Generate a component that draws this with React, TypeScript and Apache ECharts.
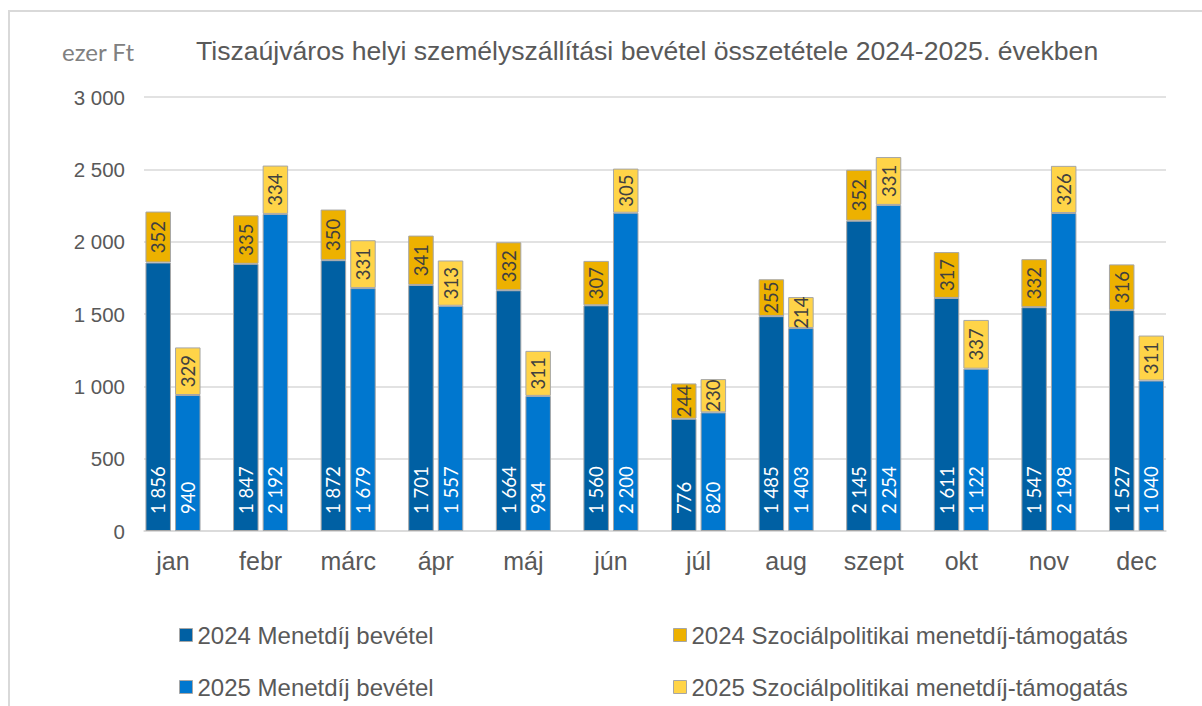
import React, { useEffect, useRef } from 'react';
import * as echarts from 'echarts';

const categories = ['jan', 'febr', 'márc', 'ápr', 'máj', 'jún', 'júl', 'aug', 'szept', 'okt', 'nov', 'dec'];
const fare2024 = [1856, 1847, 1872, 1701, 1664, 1560, 776, 1485, 2145, 1611, 1547, 1527];
const social2024 = [352, 335, 350, 341, 332, 307, 244, 255, 352, 317, 332, 316];
const fare2025 = [940, 2192, 1679, 1557, 934, 2200, 820, 1403, 2254, 1122, 2198, 1040];
const social2025 = [329, 334, 331, 313, 311, 305, 230, 214, 331, 337, 326, 311];
const seriesNames = [
  '2024 Menetdíj bevétel',
  '2024 Szociálpolitikai menetdíj-támogatás',
  '2025 Menetdíj bevétel',
  '2025 Szociálpolitikai menetdíj-támogatás',
];
const titleText = 'Tiszaújváros helyi személyszállítási bevétel összetétele 2024-2025. években';
const unitText = 'ezer Ft';

const fmt = (v: number) => String(v).replace(/\B(?=(\d{3})+(?!\d))/g, ' ');

const ARIAL = '"Liberation Sans", Arial, sans-serif';
const LABEL_FONT = 'Lato, "Liberation Sans", sans-serif';

export default function App() {
  const ref = useRef<HTMLDivElement>(null);
  useEffect(() => {
    if (!ref.current) return;
    const chart = echarts.init(ref.current, undefined, { renderer: 'svg' });
    const border = '#a6a6a6';
    const baseLabel = {
      show: true,
      position: 'insideBottom',
      rotate: 90,
      align: 'left',
      verticalAlign: 'middle',
      distance: 17,
      color: '#ffffff',
      fontFamily: LABEL_FONT,
      fontSize: 18.5,
      formatter: (p: any) => fmt(p.value),
    };
    const topLabel = {
      show: true,
      position: 'inside',
      rotate: 90,
      align: 'center',
      verticalAlign: 'middle',
      color: '#404040',
      fontFamily: LABEL_FONT,
      fontSize: 18.5,
      formatter: (p: any) => fmt(p.value),
    };
    const colors = ['#0060A3', '#EDB100', '#0077CF', '#FFD448'];
    const datas = [fare2024, social2024, fare2025, social2025];
    const stacks = ['s24', 's24', 's25', 's25'];
    const legendPos = [
      { left: 179, top: 623 },
      { left: 673, top: 623 },
      { left: 179, top: 675 },
      { left: 673, top: 675 },
    ];
    chart.setOption({
      animation: false,
      color: colors,
      graphic: [
        {
          type: 'rect',
          shape: { x: 9, y: 11, width: 1400, height: 900 },
          style: { fill: 'none', stroke: '#d9d9d9', lineWidth: 2 },
          silent: true,
        },
        {
          type: 'text',
          x: 62,
          y: 51,
          style: {
            text: unitText,
            fontFamily: LABEL_FONT,
            fontSize: 24,
            fill: '#808080',
            verticalAlign: 'middle',
          },
        },
        {
          type: 'text',
          x: 196,
          y: 51,
          style: {
            text: titleText,
            fontFamily: ARIAL,
            fontSize: 26.6,
            fill: '#595959',
            verticalAlign: 'middle',
          },
        },
      ],
      grid: [
        { left: 144, right: 36, top: 97, bottom: 175 },
        { left: 129.2, right: 21.7, top: 97, bottom: 175 },
      ],
      xAxis: [
        {
          gridIndex: 0,
          type: 'value',
          min: 0,
          max: 1,
          axisLabel: { show: false },
          axisTick: { show: false },
          splitLine: { show: false },
          axisLine: { show: true, lineStyle: { color: '#d9d9d9', width: 1.5 } },
        },
        {
          gridIndex: 1,
          type: 'category',
          data: categories,
          axisLine: { show: false },
          axisTick: { show: false },
          axisLabel: {
            fontFamily: ARIAL,
            fontSize: 25,
            color: '#595959',
            margin: 17,
          },
        },
      ],
      yAxis: [
        {
          gridIndex: 0,
          type: 'value',
          min: 0,
          max: 3000,
          interval: 500,
          axisLine: { show: false },
          axisTick: { show: false },
          axisLabel: {
            fontFamily: ARIAL,
            fontSize: 20.5,
            color: '#595959',
            margin: 19,
            formatter: (v: number) => fmt(v),
          },
          splitLine: { lineStyle: { color: '#d9d9d9', width: 1.5 } },
        },
        {
          gridIndex: 1,
          type: 'value',
          min: 0,
          max: 3000,
          interval: 500,
          show: false,
          splitLine: { show: false },
        },
      ],
      legend: legendPos.map((p, i) => ({
        data: [seriesNames[i]],
        left: p.left,
        top: p.top,
        padding: 0,
        icon: 'rect',
        itemWidth: 13,
        itemHeight: 13,
        itemStyle: { borderColor: '#a6a6a6', borderWidth: 1 },
        textStyle: { fontFamily: ARIAL, fontSize: 24, color: '#595959' },
        selectedMode: false,
      })),
      series: datas.map((d, i) => ({
        name: seriesNames[i],
        type: 'bar',
        xAxisIndex: 1,
        yAxisIndex: 1,
        stack: stacks[i],
        data: d,
        barWidth: 25.5,
        barGap: '16%',
        itemStyle: { color: colors[i], borderColor: border, borderWidth: 1 },
        label: i % 2 === 0 ? baseLabel : topLabel,
      })),
    });
    return () => chart.dispose();
  }, []);
  return (
    <div
      ref={ref}
      style={{ position: 'fixed', left: 0, top: 0, width: 1202, height: 706, background: '#ffffff' }}
    />
  );
}
